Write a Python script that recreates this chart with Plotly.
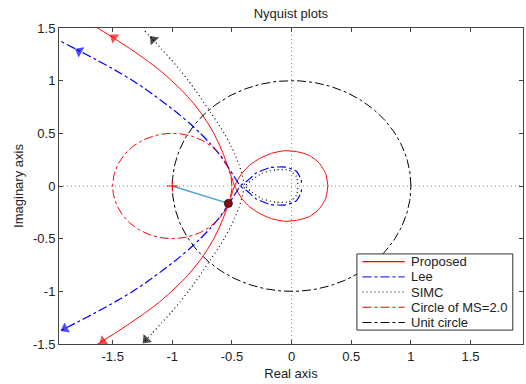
import numpy as np
import plotly.graph_objects as go

# ---------------- data ----------------
# upper half of each Nyquist branch (lower half is its complex conjugate)
prop_x = [-1.755, -1.625, -1.485, -1.350, -1.223, -1.106, -1.006, -0.914, -0.834, -0.764, -0.704,
          -0.652, -0.609, -0.571, -0.539, -0.508, -0.478,
          -0.45, -0.41, -0.35, -0.27, -0.17, -0.06, 0.05, 0.15, 0.23, 0.285, 0.305]
prop_y = [1.60, 1.50, 1.40, 1.30, 1.20, 1.10, 1.00, 0.90, 0.80, 0.70, 0.60,
          0.50, 0.40, 0.30, 0.20, 0.10, 0.0,
          -0.06, -0.13, -0.20, -0.26, -0.31, -0.335, -0.325, -0.29, -0.22, -0.12, 0.0]

lee_x = [-2.02, -1.98, -1.81, -1.64, -1.48, -1.33, -1.20, -1.08, -0.965, -0.86, -0.765,
         -0.68, -0.605, -0.545, -0.487, -0.43,
         -0.37, -0.30, -0.18, -0.05, 0.04, 0.08, 0.085]
lee_y = [1.42, 1.40, 1.30, 1.20, 1.10, 1.00, 0.90, 0.80, 0.70, 0.60, 0.50,
         0.40, 0.30, 0.20, 0.10, 0.0,
         -0.05, -0.12, -0.175, -0.18, -0.14, -0.06, 0.0]

simc_x = [-1.23, -1.17, -1.09, -1.01, -0.935, -0.865, -0.80, -0.74, -0.68, -0.62, -0.565,
          -0.517, -0.475, -0.44, -0.412, -0.39,
          -0.33, -0.25, -0.13, -0.02, 0.04, 0.055]
simc_y = [1.47, 1.40, 1.30, 1.20, 1.10, 1.00, 0.90, 0.80, 0.70, 0.60, 0.50,
          0.40, 0.30, 0.20, 0.10, 0.0,
          -0.06, -0.12, -0.155, -0.15, -0.09, 0.0]

# arrow heads: (a point just before it along the branch, arrow position)
arrows = {
    "#ff0000": [(-1.42, 1.35, -1.49, 1.41), (-1.51, -1.42, -1.58, -1.475)],
    "#0000ff": [(-1.70, 1.23, -1.78, 1.28), (-1.81, -1.30, -1.90, -1.355)],
    "#000000": [(-1.11, 1.33, -1.16, 1.39), (-1.17, -1.40, -1.22, -1.46)],
}

# circles: centre (real), radius
ms_circle = [-1.0, 0.5]
unit_circle = [0.0, 1.0]

ms_point = [-0.53, -0.165]   # closest point of Proposed curve to -1
critical = [-1.0, 0.0]

x_ticks = [-1.5, -1, -0.5, 0, 0.5, 1, 1.5]
y_ticks = [-1.5, -1, -0.5, 0, 0.5, 1, 1.5]
tick_text = ["-1.5", "-1", "-0.5", "0", "0.5", "1", "1.5"]

legend_names = ["Proposed", "Lee", "SIMC", "Circle of MS=2.0", "Unit circle"]
legend_colors = ["#ff0000", "#3333ff", "#000000", "#ff0000", "#000000"]
legend_dash = ["solid", "dashdot", "1px,3px", "dashdot", "dashdot"]


def with_mirror(xs, ys):
    bx = list(xs) + [None] + list(xs)
    by = list(ys) + [None] + [-v for v in ys]
    return bx, by


def circle_pts(c, r, n=181):
    t = np.linspace(0, 2 * np.pi, n)
    return c + r * np.cos(t), r * np.sin(t)


fig = go.Figure()

# zero lines
fig.add_shape(type="line", x0=-1.95, x1=1.94, y0=0, y1=0, line=dict(color="#888", width=1, dash="1px,3px"), layer="below")
fig.add_shape(type="line", x0=0, x1=0, y0=-1.5, y1=1.5, line=dict(color="#888", width=1, dash="1px,3px"), layer="below")

px_, py_ = with_mirror(prop_x, prop_y)
fig.add_trace(go.Scatter(x=px_, y=py_, mode="lines", name=legend_names[0],
                         line=dict(color="#ff0000", width=1, shape="spline", smoothing=0.5)))
lx, ly = with_mirror(lee_x, lee_y)
fig.add_trace(go.Scatter(x=lx, y=ly, mode="lines", name=legend_names[1],
                         line=dict(color="#0000ff", width=1.2, dash="dashdot", shape="spline", smoothing=0.5)))
sx, sy = with_mirror(simc_x, simc_y)
fig.add_trace(go.Scatter(x=sx, y=sy, mode="lines", name=legend_names[2],
                         line=dict(color="#000000", width=1.2, dash="1px,3px", shape="spline", smoothing=0.5)))
cx, cy = circle_pts(*ms_circle)
fig.add_trace(go.Scatter(x=cx, y=cy, mode="lines", name=legend_names[3],
                         line=dict(color="#ff0000", width=1, dash="dashdot")))
ux, uy = circle_pts(*unit_circle)
fig.add_trace(go.Scatter(x=ux, y=uy, mode="lines", name=legend_names[4],
                         line=dict(color="#000000", width=1, dash="dashdot")))

# distance line and marker
fig.add_trace(go.Scatter(x=[critical[0], ms_point[0]], y=[critical[1], ms_point[1]], mode="lines",
                         line=dict(color="#4fa3d6", width=1.5)))
fig.add_trace(go.Scatter(x=[ms_point[0]], y=[ms_point[1]], mode="markers",
                         marker=dict(color="#8b0a1a", size=8, line=dict(color="#222", width=1))))
fig.add_trace(go.Scatter(x=[critical[0]], y=[critical[1]], mode="markers",
                         marker=dict(symbol="cross-thin", color="red", size=8, line=dict(color="red", width=1))))

for col, lst in arrows.items():
    for (x0, y0, x1, y1) in lst:
        fig.add_trace(go.Scatter(x=[x0, x1], y=[y0, y1], mode="markers",
                                 marker=dict(symbol="triangle-up", size=[0, 10], color=col,
                                             angleref="previous", line=dict(width=0))))

# ---- legend box (drawn in paper coordinates) ----
L_X0, L_X1, L_Y0, L_Y1 = 0.642, 0.978, 0.044, 0.285
fig.add_shape(type="rect", xref="paper", yref="paper", x0=L_X0, x1=L_X1, y0=L_Y0, y1=L_Y1,
              line=dict(color="#333", width=1), fillcolor="white", layer="above")
row_h = (L_Y1 - L_Y0) / 5.0
for i, (nm, col, ds) in enumerate(zip(legend_names, legend_colors, legend_dash)):
    yc = L_Y1 - row_h * (i + 0.5)
    fig.add_shape(type="line", xref="paper", yref="paper", x0=L_X0 + 0.012, x1=L_X0 + 0.103,
                  y0=yc, y1=yc, line=dict(color=col, width=1.2, dash=ds), layer="above")
    fig.add_annotation(xref="paper", yref="paper", x=L_X0 + 0.113, y=yc, text=nm, showarrow=False,
                       xanchor="left", yanchor="middle", font=dict(size=13, color="#222"))

font = "Liberation Sans, Arial, sans-serif"
axis_common = dict(showgrid=False, zeroline=False, showline=True, linecolor="#444", linewidth=1,
                   mirror="ticks", ticks="inside", ticklen=4, tickcolor="#444",
                   tickfont=dict(size=13, color="#222", family=font))
fig.update_layout(
    width=526, height=384,
    margin=dict(l=59, r=3, t=28, b=40),
    paper_bgcolor="white", plot_bgcolor="white",
    font=dict(family=font, size=13, color="#222"),
    showlegend=False,
    title=dict(text="Nyquist plots", x=0.553, xanchor="center", y=0.966, yanchor="middle",
               font=dict(size=13, color="#222")),
    xaxis=dict(range=[-1.95, 1.94], tickvals=x_ticks, ticktext=tick_text,
               title=dict(text="Real axis", standoff=6, font=dict(size=13)), **axis_common),
    yaxis=dict(range=[-1.5, 1.5], tickvals=y_ticks, ticktext=tick_text,
               title=dict(text="Imaginary axis", standoff=6, font=dict(size=13)), **axis_common),
)

fig.write_html("out.html")
